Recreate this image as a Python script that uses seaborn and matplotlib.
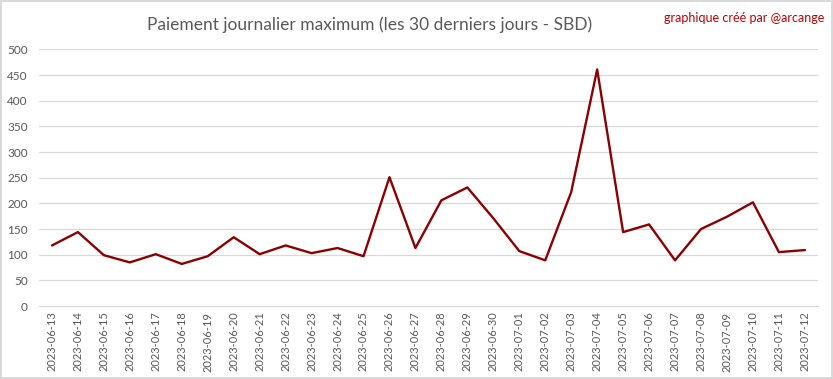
import matplotlib.pyplot as plt
import pandas as pd
import seaborn as sns

dates = pd.date_range("2023-06-13", "2023-07-12").strftime("%Y-%m-%d").tolist()
max_payout = [
    118, 144, 99, 85, 101, 82, 97, 134, 101, 118,
    103, 113, 97, 251, 113, 206, 231, 171, 107, 89,
    222, 461, 144, 159, 89, 150, 174, 202, 105, 109,
]
y_ticks = list(range(0, 501, 50))

df = pd.DataFrame({"date": dates, "payout": max_payout})

sns.set_style("white")
plt.rcParams["font.family"] = ["Lato", "DejaVu Sans"]

grey = "#595959"
fig = plt.figure(figsize=(8.33, 3.79), dpi=100)
fig.patch.set_edgecolor("#d9d9d9")
fig.patch.set_linewidth(1.5)
ax = fig.add_axes([0.0468, 0.1926, 0.935, 0.677])

sns.lineplot(data=df, x="date", y="payout", sort=False, color="#8b0000",
             linewidth=1.7, ax=ax)

ax.set_ylim(0, 500)
ax.set_xlim(-0.5, len(dates) - 0.5)
ax.set_yticks(y_ticks)
ax.yaxis.grid(True, color="#d9d9d9", linewidth=0.9)
ax.set_axisbelow(True)
for side in ["top", "right", "left"]:
    ax.spines[side].set_visible(False)
ax.spines["bottom"].set_color("#d9d9d9")
ax.tick_params(axis="x", rotation=90, labelsize=8, colors=grey, length=0, pad=4)
ax.tick_params(axis="y", labelsize=8.5, colors=grey, length=0, pad=8)
ax.set_xlabel("")
ax.set_ylabel("")

fig.text(0.444, 0.935, "Paiement journalier maximum (les 30 derniers jours - SBD)",
         ha="center", va="center", fontsize=12.5, color=grey)
fig.text(0.99, 0.952, "graphique créé par @arcange", ha="right", va="center",
         fontsize=9, color="#c00000")

fig.savefig("out.png", dpi=100)
